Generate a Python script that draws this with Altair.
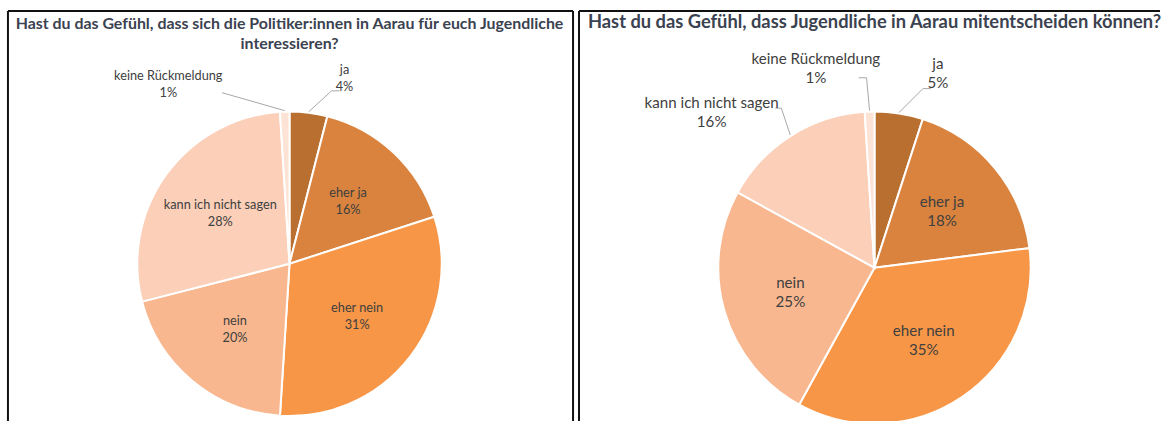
import json
import altair as alt
import pandas as pd

# ---------------- data ----------------
categories = ["ja", "eher ja", "eher nein", "nein", "kann ich nicht sagen", "keine Rückmeldung"]
values_politiker = [4, 16, 31, 20, 28, 1]
values_mitentscheiden = [5, 18, 35, 25, 16, 1]
colors = ["#B86F30", "#D9833E", "#F79646", "#F9B78F", "#FBCFB8", "#FDE3D5"]
title_left = "Hast du das Gefühl, dass sich die Politiker:innen in Aarau für euch Jugendliche\ninteressieren?"
title_right = "Hast du das Gefühl, dass Jugendliche in Aarau mitentscheiden können?"

FONT = "Lato"
TEXT_COLOR = "#404040"
TITLE_COLOR = "#3B4250"
LEADER = "#A6A6A6"


def panel(values, cx, cy, r, W, H, outside, fsize, lh, label_r, title, title_props, right_border):
    df = pd.DataFrame({"category": categories, "value": values,
                       "order": list(range(len(categories)))})
    base = alt.Chart(df)
    theta = alt.Theta("value:Q", stack=True)
    order = alt.Order("order:Q")

    arcs = base.mark_arc(outerRadius=r, stroke="white", strokeWidth=2).encode(
        theta=theta, order=order,
        color=alt.Color("category:N", scale=alt.Scale(domain=categories, range=colors), legend=None),
        x=alt.value(cx), y=alt.value(cy),
    )

    out_list = json.dumps(list(outside.keys()))
    inside = base.transform_calculate(
        lbl=f"indexof({out_list}, datum.category) >= 0 ? '' : datum.category + '\\n' + datum.value + '%'"
    ).mark_text(radius=label_r, dy=-lh / 2, lineBreak="\n", font=FONT, fontSize=fsize, lineHeight=lh,
                color=TEXT_COLOR, align="center", baseline="middle").encode(
        theta=theta, order=order, text="lbl:N", x=alt.value(cx), y=alt.value(cy),
    )

    pre = base.transform_joinaggregate(total="sum(value)").transform_window(
        cum="sum(value)", sort=[alt.SortField("order")], frame=[None, 0]
    ).transform_calculate(
        ang="2*PI*(datum.cum - datum.value/2)/datum.total"
    ).transform_calculate(
        ex=f"{cx} + {r + 1}*sin(datum.ang)", ey=f"{cy} - {r + 1}*cos(datum.ang)",
        lbl="datum.category + '\\n' + datum.value + '%'",
    )

    xs = lambda f: alt.X(f, scale=None, axis=None)
    ys = lambda f: alt.Y(f, scale=None, axis=None)

    layers = []
    for cat, p in outside.items():
        sub = pre.transform_filter(alt.datum.category == cat).transform_calculate(
            bx=f"datum.ex + {p['elbow'][0]}", by=f"datum.ey + {p['elbow'][1]}",
        ).transform_calculate(hx=f"datum.bx + {p['h']}")
        layers.append(sub.mark_rule(color=LEADER, strokeWidth=1).encode(
            x=xs("ex:Q"), y=ys("ey:Q"), x2="bx:Q", y2="by:Q"))
        if p["h"] != 0:
            layers.append(sub.mark_rule(color=LEADER, strokeWidth=1).encode(
                x=xs("bx:Q"), y=ys("by:Q"), x2="hx:Q", y2="by:Q"))
        layers.append(sub.mark_text(dx=p["label"][0], dy=p["label"][1] - lh / 2, lineBreak="\n",
                                    font=FONT, fontSize=fsize, lineHeight=lh, color=TEXT_COLOR,
                                    align="center", baseline="middle").encode(
            x=xs("ex:Q"), y=ys("ey:Q"), text="lbl:N"))

    tdf = pd.DataFrame({"t": [title]})
    title_mark = alt.Chart(tdf).mark_text(
        lineBreak="\n", font=FONT, fontWeight="bold", color=TITLE_COLOR,
        baseline="top", **title_props["mark"]
    ).encode(text="t:N", x=alt.value(title_props["x"]), y=alt.value(title_props["y"]))

    one = pd.DataFrame({"k": [0]})
    bchart = alt.Chart(one)
    borders = [
        bchart.mark_rule(color="#111111", strokeWidth=2).encode(
            x=alt.value(0), x2=alt.value(W), y=alt.value(0), y2=alt.value(0)),
        bchart.mark_rule(color="#111111", strokeWidth=2).encode(
            x=alt.value(0), x2=alt.value(0), y=alt.value(0), y2=alt.value(H + 5)),
    ]
    if right_border:
        borders.append(bchart.mark_rule(color="#111111", strokeWidth=2).encode(
            x=alt.value(W), x2=alt.value(W), y=alt.value(0), y2=alt.value(H + 5)))

    return alt.layer(*borders, arcs, inside, *layers, title_mark).properties(width=W, height=H)


left = panel(
    values_politiker, cx=283, cy=254, r=153, W=568, H=412,
    outside={
        "ja": {"elbow": (23, -21), "h": 8, "label": (36, -33)},
        "keine Rückmeldung": {"elbow": (-63, -18), "h": 0, "label": (-117, -26)},
    },
    fsize=12.8, lh=17, label_r=86, title=title_left,
    title_props={"x": 283, "y": 5, "mark": {"align": "center", "fontSize": 16, "lineHeight": 20}},
    right_border=True,
)

right = panel(
    values_mitentscheiden, cx=297, cy=258, r=157, W=584, H=412,
    outside={
        "ja": {"elbow": (24, -24), "h": 8, "label": (39, -39)},
        "keine Rückmeldung": {"elbow": (-3, -33), "h": -8, "label": (-54, -42)},
        "kann ich nicht sagen": {"elbow": (-9, -27), "h": -6, "label": (-79, -23)},
    },
    fsize=15.2, lh=19, label_r=88, title=title_right,
    title_props={"x": 9, "y": 2, "mark": {"align": "left", "fontSize": 18.4, "lineHeight": 22}},
    right_border=False,
)

chart = alt.hconcat(left, right, spacing=4).properties(
    padding={"left": 7, "top": 9, "right": 0, "bottom": 0}
).configure_view(stroke=None)

chart.save("out.html", embed_options={"renderer": "svg", "actions": False})
